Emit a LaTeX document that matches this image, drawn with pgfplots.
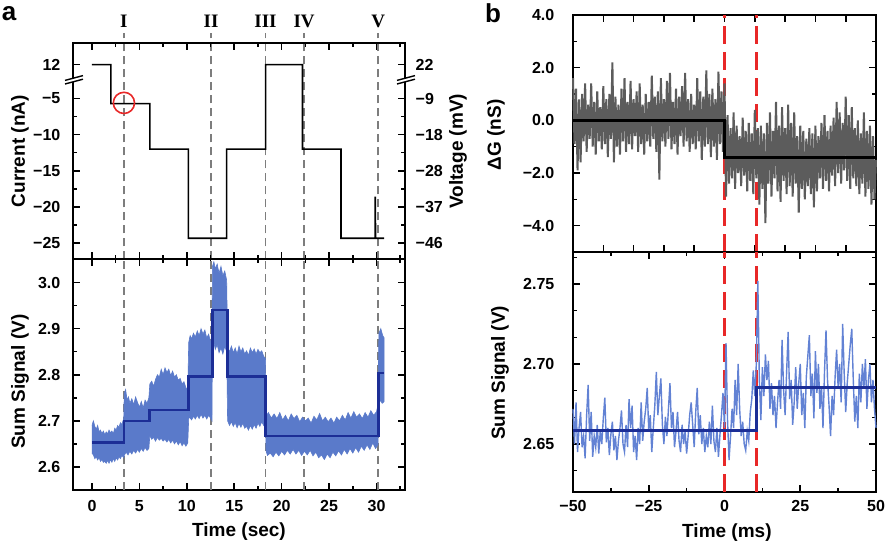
\documentclass[border=0pt]{standalone}
\usepackage{fontspec}
\setmainfont{Liberation Sans}
\newfontfamily\romanfont{Liberation Serif}
\usepackage{pgfplots}
\pgfplotsset{compat=1.18}
\definecolor{bandblue}{RGB}{90,122,202}
\definecolor{stepblue}{RGB}{28,46,150}
\definecolor{traceblue}{RGB}{98,130,212}
\definecolor{noisegray}{RGB}{92,92,92}
\definecolor{dashgray}{RGB}{125,125,125}
\definecolor{redd}{RGB}{232,40,40}
\pgfplotsset{
  base/.style={
    scale only axis, clip=false,
    axis line style={line width=1pt},
    every tick/.style={black, line width=0.8pt},
    tick align=inside,
    major tick length=3.5pt, minor tick length=2pt,
    tick label style={font=\fontsize{8}{9}\selectfont\bfseries},
    label style={font=\fontsize{9.5}{11}\selectfont\bfseries},
  },
  vdash/.style={dashgray, line width=0.9pt, dash pattern=on 4pt off 2.5pt},
  rdash/.style={redd, line width=1.3pt, dash pattern=on 9pt off 4pt},
}
\begin{document}
\begin{tikzpicture}
\useasboundingbox (0,0) rectangle (445pt,273pt);
\node[font=\fontsize{13}{14}\selectfont\bfseries] at (4.5pt,266pt) {a};
\node[font=\fontsize{13}{14}\selectfont\bfseries] at (246.5pt,266.5pt) {b};
% ---------- panel a, top (broken current axis, plotted as current + 30 nA) ----------
\begin{axis}[base, at={(36.5pt,143.25pt)}, anchor=south west, width=166pt, height=108.25pt,
  xmin=-2, xmax=33, ymin=2.7, ymax=32.7,
  xtick={0,5,10,15,20,25,30}, xticklabels={}, minor xtick={2.5,7.5,12.5,17.5,22.5,27.5,32.5},
  ytick={5,10,15,20,25,29.7}, yticklabels={−25,−20,−15,−10,−5,12},
  minor ytick={7.5,12.5,17.5,22.5},
  yticklabel style={xshift=-2.8pt},
  ylabel={Current (nA)}, ylabel style={at={(axis description cs:-0.16,0.5)},anchor=center}]
\addplot[vdash] coordinates {(3.36,2.7) (3.36,34.04)};
\addplot[vdash] coordinates {(12.55,2.7) (12.55,34.04)};
\addplot[vdash] coordinates {(18.3,2.7) (18.3,34.04)};
\addplot[vdash] coordinates {(22.36,2.7) (22.36,34.04)};
\addplot[vdash] coordinates {(30.18,2.7) (30.18,34.04)};
\addplot[black, line width=0.8pt] coordinates {(0,29.7) (2.0,29.7) (2.0,24.3) (6.1,24.3) (6.1,18) (10.16,18) (10.16,5.65) (14.2,5.65) (14.2,18) (18.3,18) (18.3,29.7) (22.2,29.7) (22.2,18) (26.25,18) (26.25,5.65) (29.86,5.65) (29.86,11.4) (29.9,5.65) (30.8,5.65)};
\addplot[only marks, mark=o, mark size=5.3pt, redd, mark options={line width=0.8pt}] coordinates {(3.37,24.4)};
\node[font=\fontsize{9.5}{11}\selectfont\romanfont\bfseries] at (axis cs:3.36,35.65) {I};
\node[font=\fontsize{9.5}{11}\selectfont\romanfont\bfseries] at (axis cs:12.55,35.65) {II};
\node[font=\fontsize{9.5}{11}\selectfont\romanfont\bfseries] at (axis cs:18.3,35.65) {III};
\node[font=\fontsize{9.5}{11}\selectfont\romanfont\bfseries] at (axis cs:22.36,35.65) {IV};
\node[font=\fontsize{9.5}{11}\selectfont\romanfont\bfseries] at (axis cs:30.18,35.65) {V};
\node[anchor=west, font=\fontsize{8}{9}\selectfont\bfseries, xshift=1.8pt] at (axis cs:33,29.7) {22};
\node[anchor=west, font=\fontsize{8}{9}\selectfont\bfseries, xshift=1.8pt] at (axis cs:33,25) {−9};
\node[anchor=west, font=\fontsize{8}{9}\selectfont\bfseries, xshift=1.8pt] at (axis cs:33,20) {−18};
\node[anchor=west, font=\fontsize{8}{9}\selectfont\bfseries, xshift=1.8pt] at (axis cs:33,15) {−28};
\node[anchor=west, font=\fontsize{8}{9}\selectfont\bfseries, xshift=1.8pt] at (axis cs:33,10) {−37};
\node[anchor=west, font=\fontsize{8}{9}\selectfont\bfseries, xshift=1.8pt] at (axis cs:33,5) {−46};
\node[rotate=90, font=\fontsize{9.5}{11}\selectfont\bfseries] at (axis description cs:1.16,0.5) {Voltage (mV)};
\end{axis}
% ---------- panel a, bottom ----------
\begin{axis}[base, at={(36.5pt,28pt)}, anchor=south west, width=166pt, height=115.25pt,
  xmin=-2, xmax=33, ymin=2.55, ymax=3.05,
  xtick={0,5,10,15,20,25,30}, xticklabels={0,5,10,15,20,25,30}, minor xtick={2.5,7.5,12.5,17.5,22.5,27.5,32.5},
  ytick={2.6,2.7,2.8,2.9,3.0}, yticklabels={2.6,2.7,2.8,2.9,3.0}, minor ytick={2.65,2.75,2.85,2.95},
  yticklabel style={xshift=-2.8pt}, xticklabel style={yshift=-1.8pt},
  xlabel={Time (sec)}, xlabel style={at={(axis description cs:0.5,-0.182)},anchor=center},
  ylabel={Sum Signal (V)}, ylabel style={at={(axis description cs:-0.16,0.47)},anchor=center}]
\addplot[vdash] coordinates {(3.36,2.55) (3.36,3.05)};
\addplot[vdash] coordinates {(12.55,2.55) (12.55,3.05)};
\addplot[vdash] coordinates {(18.3,2.55) (18.3,3.05)};
\addplot[vdash] coordinates {(22.36,2.55) (22.36,3.05)};
\addplot[vdash] coordinates {(30.18,2.55) (30.18,3.05)};
\addplot[fill=bandblue, draw=bandblue, line width=0.3pt] coordinates {
(0.00,2.690) (0.15,2.700) (0.30,2.688) (0.45,2.682) (0.60,2.690) (0.75,2.676) (0.90,2.680) (1.05,2.672) (1.20,2.678) (1.35,2.670) (1.50,2.676) (1.65,2.672) (1.80,2.680) (1.95,2.674) (2.10,2.678) (2.25,2.672) (2.40,2.684) (2.55,2.680) (2.70,2.690) (2.85,2.686) (3.00,2.696) (3.15,2.692) (3.35,2.705)
(3.40,2.760) (3.55,2.768) (3.70,2.745) (3.85,2.752) (4.00,2.738) (4.20,2.748) (4.40,2.735) (4.60,2.752) (4.80,2.740) (5.00,2.730) (5.20,2.742) (5.40,2.728) (5.60,2.745) (5.80,2.738) (6.00,2.750)
(6.10,2.780) (6.30,2.786) (6.50,2.775) (6.70,2.790) (6.90,2.800) (7.10,2.795) (7.30,2.812) (7.50,2.800) (7.70,2.815) (7.90,2.805) (8.10,2.812) (8.30,2.798) (8.50,2.808) (8.70,2.795) (8.90,2.800) (9.10,2.788) (9.30,2.792) (9.50,2.780) (9.70,2.785) (9.90,2.772) (10.10,2.768)
(10.20,2.870) (10.35,2.885) (10.50,2.878) (10.70,2.890) (10.90,2.882) (11.10,2.895) (11.30,2.885) (11.50,2.900) (11.70,2.888) (11.90,2.897) (12.10,2.880) (12.30,2.888) (12.50,2.872) (12.65,2.860)
(12.70,3.035) (12.85,3.045) (13.00,3.030) (13.20,3.040) (13.40,3.020) (13.60,3.035) (13.80,3.015) (14.00,3.025) (14.20,3.005)
(14.30,2.860) (14.50,2.850) (14.70,2.862) (14.90,2.848) (15.10,2.858) (15.30,2.845) (15.50,2.862) (15.70,2.850) (15.90,2.858) (16.10,2.845) (16.30,2.852) (16.50,2.842) (16.70,2.858) (16.90,2.848) (17.10,2.856) (17.30,2.845) (17.50,2.855) (17.70,2.848) (17.90,2.852) (18.10,2.840) (18.30,2.835)
(18.35,2.710) (18.60,2.718) (18.90,2.706) (19.20,2.715) (19.50,2.705) (19.80,2.718) (20.10,2.702) (20.40,2.712) (20.70,2.700) (21.00,2.715) (21.30,2.705) (21.60,2.712) (21.90,2.698) (22.20,2.708) (22.50,2.700) (22.80,2.706) (23.10,2.695) (23.40,2.710) (23.70,2.702) (24.00,2.716) (24.30,2.700) (24.60,2.708) (24.90,2.698) (25.20,2.706) (25.50,2.695) (25.80,2.708) (26.10,2.700) (26.40,2.712) (26.70,2.702) (27.00,2.718) (27.30,2.706) (27.60,2.720) (27.90,2.708) (28.20,2.715) (28.50,2.705) (28.80,2.718) (29.10,2.708) (29.40,2.722) (29.70,2.712) (30.00,2.720) (30.15,2.735)
(30.25,2.890) (30.45,2.900) (30.65,2.885) (30.80,2.880)
(30.80,2.742) (30.60,2.738) (30.40,2.745) (30.25,2.735)
(30.15,2.648) (29.90,2.640) (29.60,2.652) (29.30,2.638) (29.00,2.648) (28.70,2.636) (28.40,2.645) (28.10,2.632) (27.80,2.642) (27.50,2.630) (27.20,2.640) (26.90,2.628) (26.60,2.638) (26.30,2.626) (26.00,2.635) (25.70,2.624) (25.40,2.632) (25.10,2.620) (24.80,2.628) (24.50,2.616) (24.20,2.626) (23.90,2.620) (23.60,2.632) (23.30,2.624) (23.00,2.636) (22.70,2.626) (22.40,2.634) (22.10,2.625) (21.80,2.636) (21.50,2.628) (21.20,2.638) (20.90,2.628) (20.60,2.636) (20.30,2.626) (20.00,2.634) (19.70,2.624) (19.40,2.632) (19.10,2.622) (18.80,2.630) (18.50,2.625) (18.35,2.635)
(18.30,2.700) (18.10,2.690) (17.90,2.698) (17.70,2.688) (17.50,2.695) (17.30,2.684) (17.10,2.692) (16.90,2.682) (16.70,2.690) (16.50,2.680) (16.30,2.688) (16.10,2.684) (15.90,2.695) (15.70,2.686) (15.50,2.694) (15.30,2.685) (15.10,2.696) (14.90,2.688) (14.70,2.698) (14.50,2.690) (14.30,2.700)
(14.20,2.850) (14.00,2.862) (13.80,2.845) (13.60,2.858) (13.40,2.848) (13.20,2.865) (13.00,2.855) (12.85,2.870) (12.70,2.868)
(12.65,2.700) (12.50,2.706) (12.30,2.712) (12.10,2.704) (11.90,2.712) (11.70,2.706) (11.50,2.714) (11.30,2.705) (11.10,2.712) (10.90,2.704) (10.70,2.710) (10.50,2.702) (10.30,2.708) (10.20,2.705)
(10.10,2.652) (9.90,2.645) (9.70,2.652) (9.50,2.646) (9.30,2.655) (9.10,2.648) (8.90,2.656) (8.70,2.650) (8.50,2.658) (8.30,2.652) (8.10,2.660) (7.90,2.654) (7.70,2.660) (7.50,2.656) (7.30,2.662) (7.10,2.658) (6.90,2.664) (6.70,2.656) (6.50,2.664) (6.30,2.660) (6.10,2.668)
(6.00,2.640) (5.80,2.636) (5.60,2.642) (5.40,2.634) (5.20,2.640) (5.00,2.632) (4.80,2.638) (4.60,2.630) (4.40,2.636) (4.20,2.628) (4.00,2.634) (3.80,2.626) (3.60,2.632) (3.40,2.625)
(3.35,2.620) (3.15,2.625) (3.00,2.618) (2.85,2.622) (2.70,2.615) (2.55,2.620) (2.40,2.612) (2.25,2.618) (2.10,2.610) (1.95,2.616) (1.80,2.608) (1.65,2.614) (1.50,2.608) (1.35,2.612) (1.20,2.610) (1.05,2.616) (0.90,2.612) (0.75,2.620) (0.60,2.615) (0.45,2.622) (0.30,2.618) (0.15,2.626) (0.00,2.630)};
\addplot[stepblue, line width=1.2pt] coordinates {(0,2.653) (3.4,2.653) (3.4,2.700) (6.05,2.700) (6.05,2.723) (10.18,2.723) (10.18,2.796) (12.7,2.796) (12.7,2.940) (14.27,2.940) (14.27,2.796) (18.3,2.796) (18.3,2.667) (30.2,2.667) (30.2,2.804) (30.8,2.804)};
\end{axis}
% ---------- panel b, top ----------
\begin{axis}[base, at={(286.5pt,147pt)}, anchor=south west, width=151.5pt, height=118.5pt,
  xmin=-50, xmax=50, ymin=-5, ymax=4,
  xtick={-50,-40,-30,-20,-10,0,10,20,30,40,50}, xticklabels={},
  ytick={-4,-2,0,2,4}, yticklabels={−4.0,−2.0,0.0,2.0,4.0}, minor ytick={-5,-3,-1,1,3},
  yticklabel style={xshift=-5.8pt},
  ylabel={ΔG (nS)}, ylabel style={at={(axis description cs:-0.254,0.494)},anchor=center}]
\addplot[rdash] coordinates {(0,-5) (0,4)};
\addplot[rdash] coordinates {(10.5,-5) (10.5,4)};
\addplot[noisegray, line width=1.0pt, line join=bevel] coordinates {
(-50.0,1.6) (-49.5,-0.9) (-49.0,1.2) (-48.5,-1.9) (-48.0,0.8) (-47.5,-1.6) (-47.0,1.0) (-46.5,-0.8) (-46.0,1.4) (-45.5,-1.2) (-45.0,0.6) (-44.5,-0.7) (-44.0,1.4) (-43.5,-1.0) (-43.0,0.7) (-42.5,-1.3) (-42.0,1.1) (-41.5,-0.8) (-41.0,0.5) (-40.5,-1.1) (-40.0,1.3) (-39.5,-0.9) (-39.0,0.8) (-38.5,-1.4) (-38.0,1.0) (-37.5,-0.7) (-37.0,2.2) (-36.5,-1.6) (-36.0,0.9) (-35.5,-1.0) (-35.0,0.6) (-34.5,-1.3) (-34.0,1.2) (-33.5,-0.8) (-33.0,1.6) (-32.5,-1.2) (-32.0,0.7) (-31.5,-0.9) (-31.0,1.5) (-30.5,-1.1) (-30.0,0.8) (-29.5,-0.6) (-29.0,1.1) (-28.5,-1.2) (-28.0,1.4) (-27.5,-0.9) (-27.0,0.6) (-26.5,-1.3) (-26.0,1.0) (-25.5,-0.8) (-25.0,0.7) (-24.5,-1.0) (-24.0,1.7) (-23.5,-0.7) (-23.0,0.9) (-22.5,-1.2) (-22.0,1.1) (-21.5,-2.25) (-21.0,1.6) (-20.5,-0.8) (-20.0,0.8) (-19.5,-1.0) (-19.0,1.5) (-18.5,-0.7) (-18.0,1.8) (-17.5,-1.1) (-17.0,0.7) (-16.5,-0.9) (-16.0,1.2) (-15.5,-1.3) (-15.0,0.9) (-14.5,-0.6) (-14.0,1.3) (-13.5,-1.0) (-13.0,1.8) (-12.5,-0.8) (-12.0,0.8) (-11.5,-1.2) (-11.0,1.0) (-10.5,-0.9) (-10.0,0.6) (-9.5,-1.1) (-9.0,1.6) (-8.5,-0.8) (-8.0,1.1) (-7.5,-1.5) (-7.0,0.9) (-6.5,-1.0) (-6.0,1.9) (-5.5,-0.9) (-5.0,1.0) (-4.5,-1.4) (-4.0,1.2) (-3.5,-1.0) (-3.0,0.8) (-2.5,-1.5) (-2.0,1.85) (-1.5,-0.9) (-1.0,1.1) (-0.5,-1.2) (0.0,1.4)
(0.5,-2.9) (1.0,0.2) (1.5,-2.4) (2.0,-0.3) (2.5,-2.2) (3.0,0.3) (3.5,-2.6) (4.0,-0.2) (4.5,-2.0) (5.0,-0.6) (5.5,-2.5) (6.0,0.1) (6.5,-2.1) (7.0,-0.4) (7.5,-2.7) (8.0,-0.1) (8.5,-2.3) (9.0,-0.5) (9.5,-2.8) (10.0,0.4) (10.5,-2.2) (11.0,-0.3) (11.5,-3.2) (12.0,-0.2) (12.5,-2.6) (13.0,-0.5) (13.5,-3.9) (14.0,-0.1) (14.5,-2.4) (15.0,0.3) (15.5,-2.9) (16.0,-0.4) (16.5,-2.2) (17.0,0.7) (17.5,-2.7) (18.0,-0.2) (18.5,-3.1) (19.0,0.5) (19.5,-2.3) (20.0,-0.3) (20.5,-2.8) (21.0,0.6) (21.5,-2.5) (22.0,-0.1) (22.5,-2.9) (23.0,0.3) (23.5,-2.4) (24.0,-0.6) (24.5,-3.5) (25.0,-0.2) (25.5,-2.6) (26.0,-0.4) (26.5,-3.0) (27.0,-0.7) (27.5,-2.5) (28.0,-0.3) (28.5,-2.8) (29.0,-0.5) (29.5,-3.3) (30.0,-0.2) (30.5,-2.7) (31.0,-0.6) (31.5,-2.2) (32.0,-0.1) (32.5,-2.6) (33.0,0.2) (33.5,-2.3) (34.0,-0.4) (34.5,-2.7) (35.0,-0.2) (35.5,-2.1) (36.0,0.1) (36.5,-2.5) (37.0,0.7) (37.5,-2.0) (38.0,0.3) (38.5,-2.4) (39.0,-0.1) (39.5,-1.9) (40.0,0.9) (40.5,-2.3) (41.0,0.2) (41.5,-2.6) (42.0,0.5) (42.5,-2.2) (43.0,-0.3) (43.5,-2.5) (44.0,0.0) (44.5,-2.8) (45.0,-0.5) (45.5,-2.4) (46.0,0.3) (46.5,-2.9) (47.0,-0.4) (47.5,-2.6) (48.0,-0.2) (48.5,-3.2) (49.0,-0.6) (49.5,-3.0) (50.0,-1.5)};
\addplot[black, line width=1.3pt] coordinates {(-50,0) (0,0) (0,-1.42) (50,-1.42)};
\end{axis}
% ---------- panel b, bottom ----------
\begin{axis}[base, at={(286.5pt,27pt)}, anchor=south west, width=151.5pt, height=120pt,
  xmin=-50, xmax=50, ymin=2.62, ymax=2.77,
  xtick={-50,-25,0,25,50}, xticklabels={−50,−25,0,25,50}, minor xtick={-37.5,-12.5,12.5,37.5},
  ytick={2.65,2.70,2.75}, yticklabels={2.65,2.70,2.75},
  minor ytick={2.63333,2.66667,2.68333,2.71667,2.73333,2.76667},
  yticklabel style={xshift=-5.8pt}, xticklabel style={yshift=-0.5pt},
  xlabel={Time (ms)}, xlabel style={at={(axis description cs:0.508,-0.171)},anchor=center},
  ylabel={Sum Signal (V)}, ylabel style={at={(axis description cs:-0.241,0.496)},anchor=center}]
\addplot[rdash] coordinates {(0,2.62) (0,2.77)};
\addplot[rdash] coordinates {(10.5,2.62) (10.5,2.77)};
\addplot[traceblue, line width=0.7pt] coordinates {
(-50.0,2.672) (-49.5,2.650) (-49.0,2.676) (-48.5,2.645) (-48.0,2.660) (-47.5,2.670) (-47.0,2.648) (-46.5,2.655) (-46.0,2.641) (-45.5,2.668) (-45.0,2.687) (-44.5,2.652) (-44.0,2.670) (-43.5,2.642) (-43.0,2.655) (-42.5,2.648) (-42.0,2.662) (-41.5,2.644) (-41.0,2.658) (-40.5,2.650) (-40.0,2.666) (-39.5,2.679) (-39.0,2.651) (-38.5,2.660) (-38.0,2.643) (-37.5,2.656) (-37.0,2.664) (-36.5,2.646) (-36.0,2.655) (-35.5,2.640) (-35.0,2.652) (-34.5,2.660) (-34.0,2.671) (-33.5,2.650) (-33.0,2.645) (-32.5,2.662) (-32.0,2.648) (-31.5,2.678) (-31.0,2.660) (-30.5,2.674) (-30.0,2.645) (-29.5,2.655) (-29.0,2.640) (-28.5,2.660) (-28.0,2.650) (-27.5,2.676) (-27.0,2.652) (-26.5,2.664) (-26.0,2.672) (-25.5,2.685) (-25.0,2.658) (-24.5,2.668) (-24.0,2.645) (-23.5,2.660) (-23.0,2.674) (-22.5,2.695) (-22.0,2.668) (-21.5,2.680) (-21.0,2.691) (-20.5,2.662) (-20.0,2.650) (-19.5,2.667) (-19.0,2.655) (-18.5,2.672) (-18.0,2.688) (-17.5,2.660) (-17.0,2.670) (-16.5,2.648) (-16.0,2.658) (-15.5,2.670) (-15.0,2.652) (-14.5,2.645) (-14.0,2.662) (-13.5,2.650) (-13.0,2.658) (-12.5,2.644) (-12.0,2.655) (-11.5,2.668) (-11.0,2.676) (-10.5,2.662) (-10.0,2.648) (-9.5,2.670) (-9.0,2.685) (-8.5,2.656) (-8.0,2.668) (-7.5,2.650) (-7.0,2.660) (-6.5,2.645) (-6.0,2.655) (-5.5,2.648) (-5.0,2.664) (-4.5,2.650) (-4.0,2.674) (-3.5,2.652) (-3.0,2.645) (-2.5,2.660) (-2.0,2.642) (-1.5,2.656) (-1.0,2.668) (-0.5,2.682) (0.0,2.660)
(0.5,2.713) (1.0,2.665) (1.5,2.640) (2.0,2.655) (2.5,2.672) (3.0,2.660) (3.5,2.690) (4.0,2.668) (4.5,2.700) (5.0,2.672) (5.5,2.655) (6.0,2.664) (6.5,2.650) (7.0,2.646) (7.5,2.658) (8.0,2.652) (8.5,2.670) (9.0,2.678) (9.5,2.696) (10.0,2.680) (10.5,2.700) (11.0,2.752) (11.5,2.690) (12.0,2.665) (12.5,2.698) (13.0,2.680) (13.5,2.706) (14.0,2.690) (14.5,2.702) (15.0,2.672) (15.5,2.688) (16.0,2.668) (16.5,2.680) (17.0,2.660) (17.5,2.676) (18.0,2.690) (18.5,2.672) (19.0,2.715) (19.5,2.684) (20.0,2.668) (20.5,2.695) (21.0,2.720) (21.5,2.678) (22.0,2.690) (22.5,2.662) (23.0,2.676) (23.5,2.698) (24.0,2.672) (24.5,2.688) (25.0,2.700) (25.5,2.668) (26.0,2.682) (26.5,2.660) (27.0,2.692) (27.5,2.705) (28.0,2.718) (28.5,2.680) (29.0,2.694) (29.5,2.666) (30.0,2.708) (30.5,2.682) (31.0,2.700) (31.5,2.672) (32.0,2.686) (32.5,2.660) (33.0,2.695) (33.5,2.721) (34.0,2.690) (34.5,2.674) (35.0,2.655) (35.5,2.680) (36.0,2.668) (36.5,2.692) (37.0,2.709) (37.5,2.685) (38.0,2.700) (38.5,2.676) (39.0,2.725) (39.5,2.694) (40.0,2.670) (40.5,2.688) (41.0,2.700) (41.5,2.712) (42.0,2.722) (42.5,2.690) (43.0,2.664) (43.5,2.680) (44.0,2.660) (44.5,2.694) (45.0,2.676) (45.5,2.700) (46.0,2.685) (46.5,2.703) (47.0,2.672) (47.5,2.690) (48.0,2.700) (48.5,2.676) (49.0,2.690) (49.5,2.672) (50.0,2.660)};
\addplot[stepblue, line width=1.2pt] coordinates {(-50,2.6584) (10.5,2.6584) (10.5,2.6853) (50,2.6853)};
\end{axis}
% frame edges and ticks of panel a top, filled as thin bars
\fill[black] (36pt,143.25pt) rectangle (37pt,252pt);
\fill[black] (202pt,143.25pt) rectangle (203pt,252pt);
\fill[black] (36pt,251pt) rectangle (203pt,252pt);
\foreach \yy in {151.55,169.59,187.63,205.67,223.71,240.67}{
  \fill[black] ([yshift=-0.4pt]36.5pt,\yy pt) rectangle ++(3.5pt,0.8pt);
  \fill[black] ([yshift=-0.4pt]199pt,\yy pt) rectangle ++(3.5pt,0.8pt);}
\foreach \yy in {160.57,178.61,196.65,214.69}{
  \fill[black] ([yshift=-0.4pt]36.5pt,\yy pt) rectangle ++(2pt,0.8pt);
  \fill[black] ([yshift=-0.4pt]200.5pt,\yy pt) rectangle ++(2pt,0.8pt);}
\foreach \xx in {45.99,69.70,93.41,117.13,140.84,164.56,188.27}{
  \fill[black] ([xshift=-0.4pt]\xx pt,248pt) rectangle ++(0.8pt,3.5pt);
  \fill[black] ([xshift=-0.4pt]\xx pt,143.25pt) rectangle ++(0.8pt,3.5pt);}
\foreach \xx in {57.84,81.56,105.27,128.99,152.70,176.41,200.13}{
  \fill[black] ([xshift=-0.4pt]\xx pt,249.5pt) rectangle ++(0.8pt,2pt);
  \fill[black] ([xshift=-0.4pt]\xx pt,143.25pt) rectangle ++(0.8pt,2pt);}
% axis-break marks on both sides of panel a top
\fill[white] (32.5pt,231pt) -- (41.5pt,233.4pt) -- (41.5pt,235.2pt) -- (32.5pt,232.8pt) -- cycle;
\draw[black, line width=0.7pt] (32.5pt,231pt) -- (41.5pt,233.4pt);
\draw[black, line width=0.7pt] (32.5pt,232.8pt) -- (41.5pt,235.2pt);
\fill[white] (198.5pt,231pt) -- (207.5pt,233.4pt) -- (207.5pt,235.2pt) -- (198.5pt,232.8pt) -- cycle;
\draw[black, line width=0.7pt] (198.5pt,231pt) -- (207.5pt,233.4pt);
\draw[black, line width=0.7pt] (198.5pt,232.8pt) -- (207.5pt,235.2pt);
\end{tikzpicture}
\end{document}
